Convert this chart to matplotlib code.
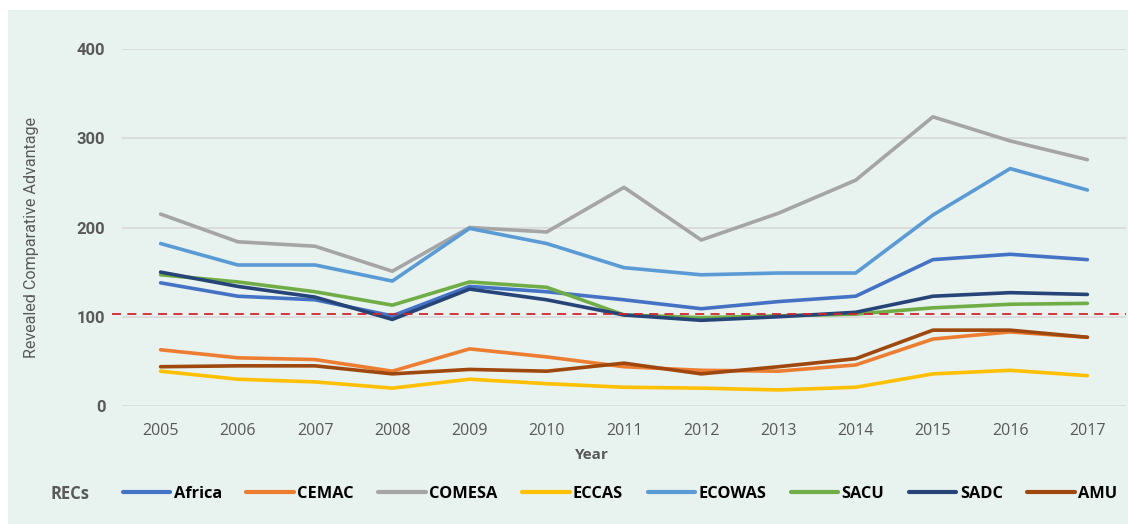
import matplotlib.pyplot as plt
from matplotlib.patches import Rectangle
import numpy as np

years = ['2005', '2006', '2007', '2008', '2009', '2010', '2011',
         '2012', '2013', '2014', '2015', '2016', '2017']

africa = [138, 123, 119, 101, 134, 128, 119, 109, 117, 123, 164, 170, 164]
cemac = [63, 54, 52, 39, 64, 55, 44, 40, 39, 46, 75, 83, 77]
comesa = [215, 184, 179, 151, 200, 195, 245, 186, 216, 253, 324, 297, 276]
eccas = [39, 30, 27, 20, 30, 25, 21, 20, 18, 21, 36, 40, 34]
ecowas = [182, 158, 158, 140, 199, 182, 155, 147, 149, 149, 214, 266, 242]
sacu = [147, 139, 128, 113, 139, 133, 102, 99, 101, 103, 110, 114, 115]
sadc = [150, 134, 122, 97, 131, 119, 102, 96, 100, 105, 123, 127, 125]
amu = [44, 45, 45, 36, 41, 39, 48, 36, 44, 53, 85, 85, 77]
threshold = 103

series = [('Africa', africa, '#4472C4'),
          ('CEMAC', cemac, '#ED7D31'),
          ('COMESA', comesa, '#A5A5A5'),
          ('ECCAS', eccas, '#FFC000'),
          ('ECOWAS', ecowas, '#5B9BD5'),
          ('SACU', sacu, '#70AD47'),
          ('SADC', sadc, '#264478'),
          ('AMU', amu, '#9E480E')]

sans = ['Open Sans', 'DejaVu Sans']
grey = '#595959'

fig = plt.figure(figsize=(11.28, 5.24), dpi=100)
fig.patches.append(Rectangle((8 / 1128, 0), 1, 1 - 10 / 524, transform=fig.transFigure,
                             facecolor='#E8F2EF', edgecolor='none', zorder=-10))

ax = fig.add_axes([122 / 1128, 1 - 406 / 524, 1004 / 1128, 357 / 524])
ax.set_facecolor('none')
x = np.arange(len(years))
for name, vals, col in series:
    ax.plot(x, vals, color=col, linewidth=2.6, label=name, solid_capstyle='round')

# RCA = 100 reference line
ax.axhline(threshold, color='#D0262E', linestyle=(0, (5, 3.5)), linewidth=1.3,
           xmin=-0.01, xmax=1.0, clip_on=False)

ax.set_xlim(-0.5, len(years) - 0.5)
ax.set_ylim(0, 400)
ax.set_yticks([0, 100, 200, 300, 400])
ax.set_xticks(x)
ax.set_xticklabels(years, family=sans, fontsize=11.5, color=grey)
ax.set_yticklabels(['0', '100', '200', '300', '400'], family=['Roboto', 'DejaVu Sans'],
                   fontsize=12, color=grey, fontweight='bold')
ax.tick_params(axis='x', length=0, pad=12)
ax.tick_params(axis='y', length=0, pad=12)
ax.grid(axis='y', color='#D9D9D9', linewidth=1.2)
ax.set_axisbelow(True)
for s in ax.spines.values():
    s.set_visible(False)

fig.text(32 / 1128, 1 - 238 / 524, 'Revealed Comparative Advantage', rotation=90,
         ha='center', va='center', family=['Roboto', 'DejaVu Sans'], fontsize=11.6, color=grey)
fig.text(592 / 1128, 1 - 455 / 524, 'Year', ha='center', va='center',
         family=sans, fontsize=11, fontweight='bold', color=grey)

fig.text(50 / 1128, 1 - 494 / 524, 'RECs', ha='left', va='center',
         family=sans, fontsize=12, fontweight='bold', color=grey)
leg = fig.legend(loc='center left', bbox_to_anchor=(108 / 1128, 1 - 494 / 524), ncol=8,
                 frameon=False, handlelength=2.9, handletextpad=0.2, columnspacing=1.5,
                 prop={'family': sans, 'weight': 'bold', 'size': 11.8})
for line in leg.get_lines():
    line.set_linewidth(3)

plt.savefig('out.png', dpi=100)
